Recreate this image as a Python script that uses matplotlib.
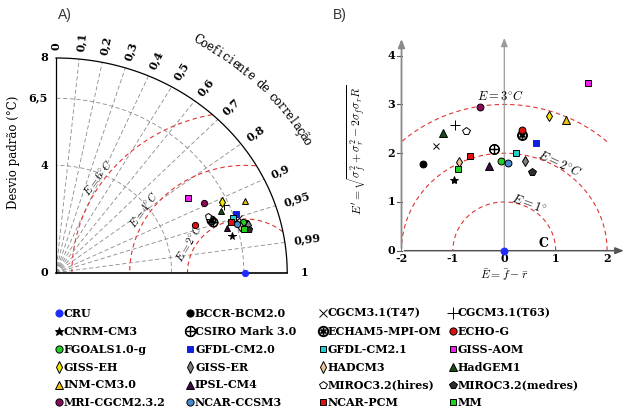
import matplotlib.pyplot as plt
import numpy as np

plt.rcParams["font.family"] = "DejaVu Serif"
plt.rcParams["mathtext.fontset"] = "cm"

# models, in legend order (row by row)
models = ["CRU", "BCCR-BCM2.0", "CGCM3.1(T47)", "CGCM3.1(T63)",
          "CNRM-CM3", "CSIRO Mark 3.0", "ECHAM5-MPI-OM", "ECHO-G",
          "FGOALS1.0-g", "GFDL-CM2.0", "GFDL-CM2.1", "GISS-AOM",
          "GISS-EH", "GISS-ER", "HADCM3", "HadGEM1",
          "INM-CM3.0", "IPSL-CM4", "MIROC3.2(hires)", "MIROC3.2(medres)",
          "MRI-CGCM2.3.2", "NCAR-CCSM3", "NCAR-PCM", "MM"]

# panel A: standard deviation (°C) and correlation with CRU
std_dev = [6.55, 6.83, 6.65, 6.33, 6.23, 5.75, 5.71, 5.13,
           6.73, 6.59, 6.45, 5.35, 6.32, 6.87, 6.60, 6.15,
           7.07, 6.14, 5.67, 6.88, 5.75, 6.50, 6.33, 6.71]
correlation = [1.0, 0.962, 0.952, 0.917, 0.975, 0.944, 0.939, 0.938,
               0.959, 0.943, 0.949, 0.854, 0.908, 0.966, 0.965, 0.927,
               0.925, 0.962, 0.928, 0.971, 0.893, 0.961, 0.955, 0.970]

# panel B: mean bias and centred RMS difference (°C)
bias = [0.0, -1.58, -1.32, -0.95, -0.97, -0.21, 0.34, 0.35,
        -0.06, 0.61, 0.22, 1.62, 0.86, 0.40, -0.88, -1.20,
        1.21, -0.29, -0.75, 0.54, -0.47, 0.08, -0.66, -0.91]
crmse = [0.0, 1.78, 2.15, 2.58, 1.45, 2.09, 2.37, 2.48,
         1.85, 2.20, 2.00, 3.43, 2.76, 1.84, 1.81, 2.42,
         2.68, 1.74, 2.46, 1.61, 2.94, 1.79, 1.95, 1.68]

corr_ticks = [0, 0.1, 0.2, 0.3, 0.4, 0.5, 0.6, 0.7, 0.8, 0.9, 0.95, 0.99, 1]
std_ticks = [0, 4, 6.5, 8]
rms_levels = [2, 4, 6]
e_levels = [1, 2, 3]

# marker, face colour, edge colour, size
styles = {
    "CRU": ("o", "#1f2cff", "#1f2cff", 4.5),
    "BCCR-BCM2.0": ("o", "black", "black", 4.5),
    "CGCM3.1(T47)": ("x", "black", "black", 4.5),
    "CGCM3.1(T63)": ("+", "black", "black", 7),
    "CNRM-CM3": ("*", "black", "black", 5.5),
    "CSIRO Mark 3.0": (r"$\oplus$", "black", "black", 6.5),
    "ECHAM5-MPI-OM": (r"$\circledast$", "black", "black", 6.5),
    "ECHO-G": ("o", "#e01010", "black", 4.5),
    "FGOALS1.0-g": ("o", "#22d022", "black", 4.5),
    "GFDL-CM2.0": ("s", "#1020e0", "#1020e0", 4.2),
    "GFDL-CM2.1": ("s", "#20d0d0", "black", 4.2),
    "GISS-AOM": ("s", "#f020f0", "black", 4.2),
    "GISS-EH": ("d", "#f5e400", "black", 5),
    "GISS-ER": ("d", "#808080", "black", 5),
    "HADCM3": ("d", "#f2c49a", "black", 5),
    "HadGEM1": ("^", "#154d15", "black", 4.8),
    "INM-CM3.0": ("^", "#e8c010", "black", 4.8),
    "IPSL-CM4": ("^", "#3a0a40", "black", 4.8),
    "MIROC3.2(hires)": ("p", "white", "black", 5),
    "MIROC3.2(medres)": ("p", "#303030", "black", 5),
    "MRI-CGCM2.3.2": ("o", "#8a0a5a", "black", 4.5),
    "NCAR-CCSM3": ("o", "#4a88d0", "black", 4.5),
    "NCAR-PCM": ("s", "#e01010", "black", 4.2),
    "MM": ("s", "#22d022", "black", 4.2),
}


def draw_marker(ax, x, y, name, scale=1.0):
    m, fc, ec, ms = styles[name]
    ax.plot(x, y, linestyle="none", marker=m, mfc=fc, mec=ec,
            ms=ms * scale, mew=0.7, clip_on=False, zorder=5)


W, H = 632, 415
fig = plt.figure(figsize=(W / 100, H / 100), dpi=100)

# ---------------- panel A: Taylor diagram ----------------
ox, oy, sx, sy = 56, 272.7, 28.9, 26.84  # pixel origin and pixels per unit
axA = fig.add_axes([ox / W, 1 - oy / H, 8 * sx / W, 8 * sy / H])
axA.set_xlim(0, 8)
axA.set_ylim(0, 8)
axA.axis("off")

gray = "#8a8a8a"
dash = (0, (5, 3))
t = np.linspace(0, np.pi / 2, 200)
for c in corr_ticks[1:-1]:
    th = np.arccos(c)
    axA.plot([0, 8 * np.cos(th)], [0, 8 * np.sin(th)], color=gray, lw=0.6, ls=dash)
for r in std_ticks[1:3]:
    axA.plot(r * np.cos(t), r * np.sin(t), color=gray, lw=0.6, ls=dash)

ref = std_dev[0]
phi = np.linspace(0, np.pi, 400)
for e in rms_levels:
    xs = ref + e * np.cos(phi)
    ys = e * np.sin(phi)
    keep = np.hypot(xs, ys) <= 8
    axA.plot(xs[keep], ys[keep], color="#e03434", lw=0.8, ls=(0, (4, 3)))

axA.plot(8 * np.cos(t), 8 * np.sin(t), color="black", lw=0.9, clip_on=False)
axA.plot([0, 0], [0, 8], color="black", lw=0.9, clip_on=False)
axA.plot([0, 8], [0, 0], color="black", lw=1.2, clip_on=False)

for v in std_ticks:
    axA.text(-0.28, v, f"{v:g}".replace(".", ","), ha="right", va="center",
             fontsize=8, fontweight="bold", clip_on=False)

for c in corr_ticks:
    th = np.arccos(c)
    rot = np.degrees(np.arctan2(sy * np.sin(th), sx * np.cos(th)))
    r_lab = 8.45 if c == 1 else 8.3
    axA.text(r_lab * np.cos(th), r_lab * np.sin(th), f"{c:g}".replace(".", ","),
             rotation=rot, rotation_mode="anchor", ha="left", va="center",
             fontsize=8, fontweight="bold", clip_on=False)

# curved axis title
title = "Coeficiente de correlação"
angles = np.radians(np.linspace(60.5, 29.5, len(title)))
for ch, th in zip(title, angles):
    rot = np.degrees(np.arctan2(-sy * np.cos(th), sx * np.sin(th)))
    axA.text(9.95 * np.cos(th), 9.95 * np.sin(th), ch, rotation=rot,
             ha="center", va="center", fontsize=8.5, clip_on=False)

for e, p in zip(rms_levels, [150.7, 146.0, 145.2]):
    a = np.radians(p)
    px, py = ref + (e + 0.25) * np.cos(a), (e + 0.25) * np.sin(a)
    rot = np.degrees(np.arctan2(sy * -np.cos(a), sx * np.sin(a)))
    axA.text(px, py, rf"$E = {e}^{{\circ}}C$", rotation=rot, ha="center",
             va="center", fontsize=8, clip_on=False)

for name, s, c in zip(models, std_dev, correlation):
    th = np.arccos(min(c, 1.0))
    draw_marker(axA, s * np.cos(th), s * np.sin(th), name)

fig.text(58 / W, 1 - 15 / H, "A)", family="Liberation Sans", fontsize=10,
         color="#333333", va="center")
fig.text(14 / W, 1 - 152 / H, "Desvio padrão (°C)", rotation=90, ha="center",
         va="center", fontsize=8.5)

# ---------------- panel B: bias / centred RMS ----------------
bx, by, bsx, bsy = 504.3, 250.7, 51.4, 48.75
x0, x1, y0, y1 = -2.2, 2.45, -0.1, 4.55
axB = fig.add_axes([(bx + x0 * bsx) / W, 1 - (by - y0 * bsy) / H,
                    (x1 - x0) * bsx / W, (y1 - y0) * bsy / H])
axB.set_xlim(x0, x1)
axB.set_ylim(y0, y1)
axB.axis("off")

for e in e_levels:
    xs = e * np.cos(phi)
    ys = e * np.sin(phi)
    keep = np.abs(xs) <= 2
    axB.plot(xs[keep], ys[keep], color="#e03434", lw=0.8, ls=(0, (4, 3)))

arrow = dict(arrowstyle="-|>,head_length=0.5,head_width=0.2", lw=1.1)
axB.annotate("", xy=(2.38, 0), xytext=(-2, 0),
             arrowprops=dict(arrow, color="#555555"))
axB.annotate("", xy=(0, 4.42), xytext=(0, 0),
             arrowprops=dict(arrow, color="#9a9a9a", lw=0.9))
axB.annotate("", xy=(-2, 4.4), xytext=(-2, 0),
             arrowprops=dict(arrow, color="#8a8a8a", lw=1.3))

for v in range(5):
    axB.plot([-2.08, -2], [v, v], color="#555555", lw=0.8, clip_on=False)
    axB.text(-2.12, v, str(v), ha="right", va="center", fontsize=8,
             fontweight="bold")
for v in range(-2, 3):
    axB.text(v, -0.17, str(v), ha="center", va="center", fontsize=8,
             fontweight="bold")

axB.text(-0.08, 3.17, r"$E = 3^{\circ}C$", ha="center", va="center", fontsize=9)
axB.text(1.08, 1.78, r"$E = 2^{\circ}C$", ha="center", va="center", fontsize=9,
         rotation=-25)
axB.text(0.48, 0.96, r"$E = 1^{\circ}$", ha="center", va="center", fontsize=9,
         rotation=-20)
axB.text(0.77, 0.15, "C", ha="center", va="center", fontsize=9,
         fontweight="bold")
axB.text(0.0, -0.5, r"$\bar{E} = \bar{f} - \bar{r}$", ha="center",
         va="center", fontsize=8.5)

for name, b, e in zip(models, bias, crmse):
    draw_marker(axB, b, e, name, scale=1.1)

fig.text(333 / W, 1 - 15 / H, "B)", family="Liberation Sans", fontsize=10,
         color="#333333", va="center")
fig.text(357 / W, 1 - 150 / H,
         r"$E' = \sqrt{\sigma_f^2 + \sigma_r^2 - 2\sigma_f\sigma_r R}$",
         rotation=90, ha="center", va="center", fontsize=8.5)

# ---------------- legend ----------------
axL = fig.add_axes([0, 0, 1, 1])
axL.set_xlim(0, W)
axL.set_ylim(H, 0)
axL.axis("off")
col_x = [59, 190, 323, 453]
row_y = [313, 331, 349, 367, 384.5, 402]
for i, name in enumerate(models):
    cx, ry = col_x[i % 4], row_y[i // 4]
    draw_marker(axL, cx, ry, name, scale=1.15)
    axL.text(cx + 5, ry, name, ha="left", va="center", fontsize=8,
             fontweight="bold")

fig.savefig("out.png", dpi=100)
